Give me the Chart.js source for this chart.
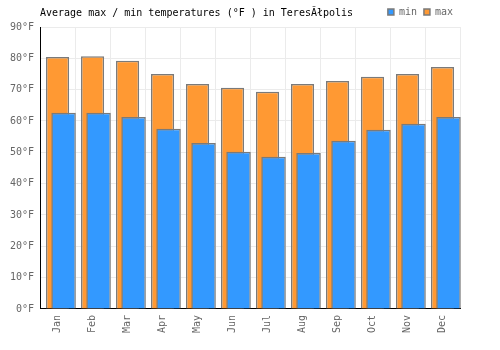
<!DOCTYPE html>
<html><head><meta charset="utf-8">
<script src="https://cdn.jsdelivr.net/npm/chart.js@4"></script>
<style>
body{margin:0;background:#fff}
#wrap{position:relative;width:500px;height:350px}
#title{position:absolute;left:40px;top:7px;font:10px 'DejaVu Sans Mono',monospace;color:#000;white-space:pre;line-height:12px}
</style>
</head><body>
<div id="wrap"><div id="title">Average max / min temperatures (°F ) in TeresĂłpolis</div>
<canvas id="c" width="500" height="350"></canvas></div>
<script>
const months = ['Jan','Feb','Mar','Apr','May','Jun','Jul','Aug','Sep','Oct','Nov','Dec'];
const minTemps = [62.6, 62.6, 61.3, 57.5, 53.0, 50.2, 48.6, 49.8, 53.7, 57.2, 59.1, 61.3];
const maxTemps = [80.4, 80.7, 79.2, 75.0, 71.8, 70.6, 69.3, 71.8, 72.8, 74.1, 75.0, 77.2];
const yTicks = [0,10,20,30,40,50,60,70,80,90];

const FONT = {family:"'DejaVu Sans Mono', monospace", size:10};
const shiftPlugin = {
  id:'shift',
  beforeDatasetDraw(chart, args){ if(args.index===0){ chart.ctx.save(); chart.ctx.translate(6,0);} },
  afterDatasetDraw(chart, args){ if(args.index===0){ chart.ctx.restore(); } }
};
new Chart(document.getElementById('c'), {
  type:'bar',
  data:{labels:months, datasets:[
    {label:'min', data:minTemps, backgroundColor:'#3399ff', borderColor:'#7a7a7a', borderWidth:1.5, grouped:false, categoryPercentage:1, barPercentage:0.70, clip:false},
    {label:'max', data:maxTemps, backgroundColor:'#ff9933', borderColor:'#7a7a7a', borderWidth:1.5, grouped:false, categoryPercentage:1, barPercentage:0.66, clip:false}
  ]},
  options:{
    responsive:false, animation:false, events:[],
    layout:{padding:{left:4, right:40, top:0, bottom:11}},
    plugins:{
      title:{display:false},
      tooltip:{enabled:false},
      legend:{position:'top', align:'end', labels:{boxWidth:6, boxHeight:6, padding:7, color:'#666', font:FONT}}
    },
    scales:{
      x:{grid:{color:'#ebebeb', drawTicks:false, offset:true}, border:{color:'#000'},
         ticks:{color:'#666', font:FONT, minRotation:90, maxRotation:90, padding:6}},
      y:{min:0, max:90, afterBuildTicks(s){ s.ticks = yTicks.map(v=>({value:v})); },
         grid:{color:'#ebebeb', drawTicks:false}, border:{color:'#000'},
         ticks:{color:'#666', font:FONT, padding:6, callback:v=>v+'°F'}}
    }
  },
  plugins:[shiftPlugin]
});
</script>
</body></html>
